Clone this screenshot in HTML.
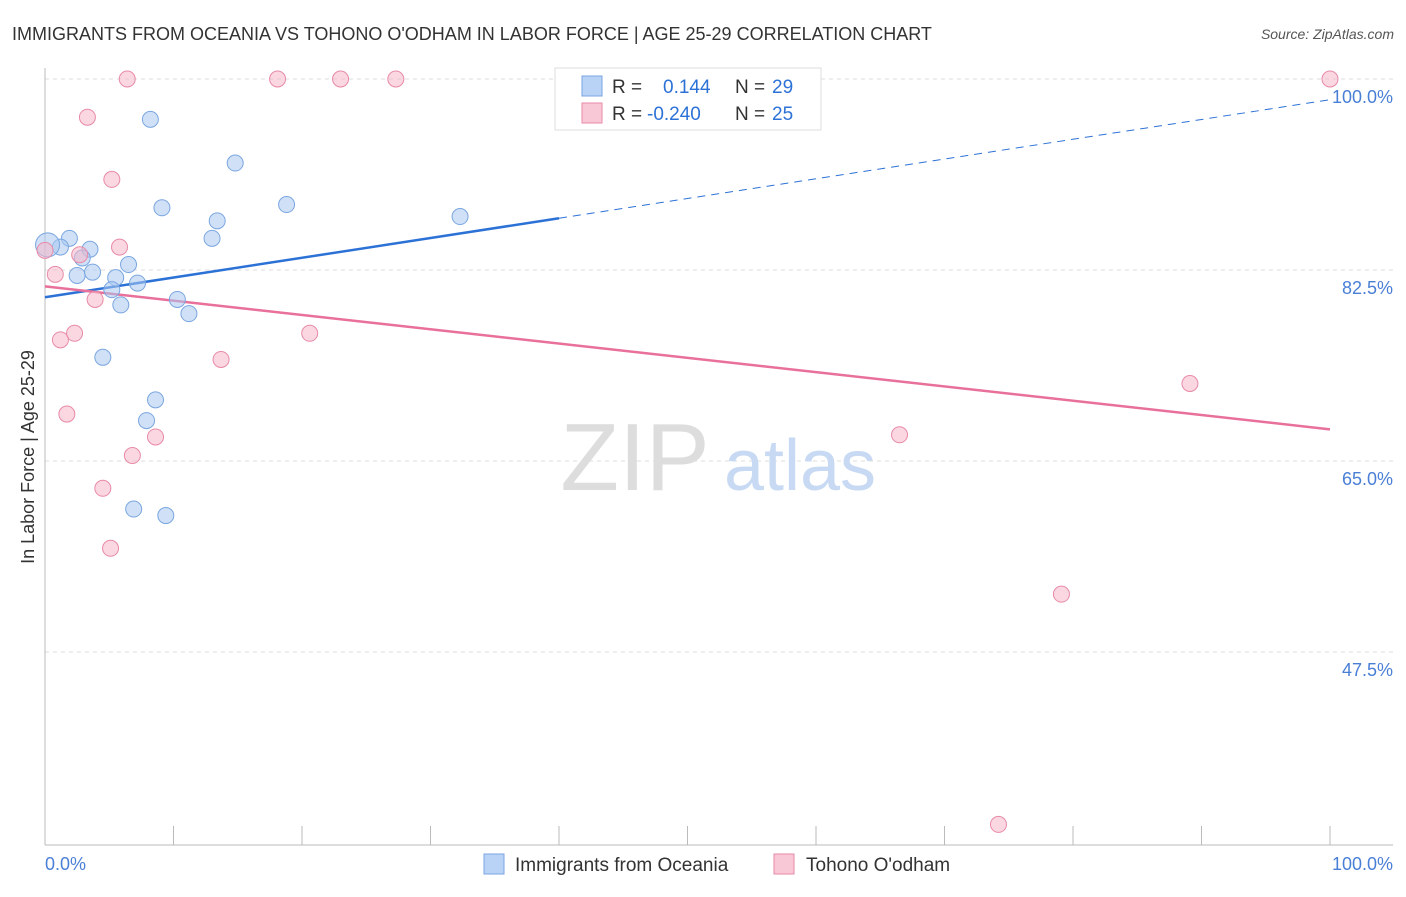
<!DOCTYPE html>
<html><head><meta charset="utf-8"><style>
body{margin:0;background:#fff;font-family:"Liberation Sans",sans-serif;}
svg text{font-family:"Liberation Sans",sans-serif;}
</style></head><body>
<svg id="chart" width="1406" height="892" viewBox="0 0 1406 892" xmlns="http://www.w3.org/2000/svg">
<text x="12" y="40" font-size="18" fill="#333">IMMIGRANTS FROM OCEANIA VS TOHONO O'ODHAM IN LABOR FORCE | AGE 25-29 CORRELATION CHART</text>
<text x="1394" y="39" font-size="14" fill="#555" font-style="italic" text-anchor="end">Source: ZipAtlas.com</text>
<g id="grid"></g>
<g><text x="635" y="490" font-size="96" fill="#ddd" font-family="Liberation Serif" text-anchor="middle">ZIP</text><text x="800" y="490" font-size="72" fill="#c8daf3" text-anchor="middle">atlas</text></g>
<line x1="45" y1="68" x2="45" y2="845" stroke="#bbb"/>
<line x1="45" y1="845" x2="1393" y2="845" stroke="#bbb"/>
<g id="ticks"></g>
<text transform="translate(34,457) rotate(-90)" font-size="18" fill="#333" text-anchor="middle">In Labor Force | Age 25-29</text>
<text x="45" y="870" font-size="18" fill="#4a7fd6">0.0%</text>
<text x="1393" y="870" font-size="18" fill="#4a7fd6" text-anchor="end">100.0%</text>
<g id="lines"></g>
<g id="points"></g>
<g>
<rect x="555" y="68" width="266" height="62" fill="#fff" stroke="#ddd"/>
<rect x="582" y="76" width="20" height="20" fill="#b8d3f5" stroke="#7aa6e0"/>
<rect x="582" y="103" width="20" height="20" fill="#f9c8d6" stroke="#e88aa8"/>
<text x="612" y="93" font-size="19" fill="#333">R = </text><text x="663" y="93" font-size="19" fill="#2c72d6">0.144</text>
<text x="735" y="93" font-size="19" fill="#333">N = </text><text x="772" y="93" font-size="19" fill="#2c72d6">29</text>
<text x="612" y="120" font-size="19" fill="#333">R = </text><text x="647" y="120" font-size="19" fill="#2c72d6">-0.240</text>
<text x="735" y="120" font-size="19" fill="#333">N = </text><text x="772" y="120" font-size="19" fill="#2c72d6">25</text>
</g>
<g>
<rect x="484" y="854" width="20" height="20" fill="#b8d3f5" stroke="#7aa6e0"/>
<text x="515" y="871" font-size="19" fill="#333">Immigrants from Oceania</text>
<rect x="774" y="854" width="20" height="20" fill="#f9c8d6" stroke="#e88aa8"/>
<text x="806" y="871" font-size="19" fill="#333">Tohono O'odham</text>
</g>
</svg>
<script>
const yTicks=[100,82.5,65,47.5];
const yTickLabels=["100.0%","82.5%","65.0%","47.5%"];
const xTicks=[0,10,20,30,40,50,60,70,80,90,100];
const blueX=[8.2,14.8,9.1,18.8,13.4,13.0,32.3,1.9,3.5,1.2,0.2,2.9,2.5,3.7,6.5,5.5,5.2,7.2,5.9,10.3,11.2,4.5,8.6,7.9,6.9,9.4];
const blueY=[96.3,92.3,88.2,88.5,87.0,85.4,87.4,85.4,84.4,84.6,84.8,83.6,82.0,82.3,83.0,81.8,80.7,81.3,79.3,79.8,78.5,74.5,70.6,68.7,60.6,60.0];
const pinkX=[6.4,18.1,23.0,27.3,100,3.3,5.2,5.8,2.7,0.8,3.9,2.3,1.2,13.7,20.6,1.7,8.6,6.8,4.5,5.1,66.5,89.1,79.1,74.2,0];
const pinkY=[100,100,100,100,100,96.5,90.8,84.6,83.9,82.1,79.8,76.7,76.1,74.3,76.7,69.3,67.2,65.5,62.5,57.0,67.4,72.1,52.8,31.7,84.3];
const blueTrend=[80.0,98.1];
const blueSolidEnd=40;
const pinkTrend=[81.0,67.9];
const NS="http://www.w3.org/2000/svg";
const sx=v=>45+v*12.85, sy=v=>79+(100-v)*10.914;
function mk(tag,attrs,parent){const e=document.createElementNS(NS,tag);for(const k in attrs)e.setAttribute(k,attrs[k]);document.getElementById(parent).appendChild(e);return e;}
yTicks.forEach((t,i)=>{
 const g=mk('line',{x1:45,x2:1393,y1:sy(t),y2:sy(t),stroke:'#ddd','stroke-dasharray':'4,4'},'grid');
 
 
 const l=mk('text',{x:1393,y:sy(t)+24,'font-size':18,fill:'#4a7fd6','text-anchor':'end'},'grid');
 l.textContent=yTickLabels[i];
 
 
});
xTicks.forEach(t=>{
 const e=mk('line',{x1:sx(t),x2:sx(t),y1:826,y2:845,stroke:'#bbb'},'ticks');
 
 
});
const by=x=>blueTrend[0]+(blueTrend[1]-blueTrend[0])*x/100;
const bl1=mk('line',{x1:sx(0),y1:sy(by(0)),x2:sx(blueSolidEnd),y2:sy(by(blueSolidEnd)),stroke:'#2c72d6','stroke-width':2.5},'lines');


const bl2=mk('line',{x1:sx(blueSolidEnd),y1:sy(by(blueSolidEnd)),x2:sx(100),y2:sy(by(100)),stroke:'#2c72d6','stroke-width':1,'stroke-dasharray':'8,6'},'lines');


const pl=mk('line',{x1:sx(0),y1:sy(pinkTrend[0]),x2:sx(100),y2:sy(pinkTrend[1]),stroke:'#e8709a','stroke-width':2.5},'lines');


blueX.forEach((x,i)=>{
 const c=mk('circle',{cx:sx(x),cy:sy(blueY[i]),r:i==10?12:8,fill:'rgba(169,200,240,0.55)',stroke:'#7aa6e0','stroke-width':1},'points');
 
 
});
pinkX.forEach((x,i)=>{
 const c=mk('circle',{cx:sx(x),cy:sy(pinkY[i]),r:8,fill:'rgba(245,183,201,0.55)',stroke:'#e88aa8','stroke-width':1},'points');
 
 
});
</script>
</body></html>
